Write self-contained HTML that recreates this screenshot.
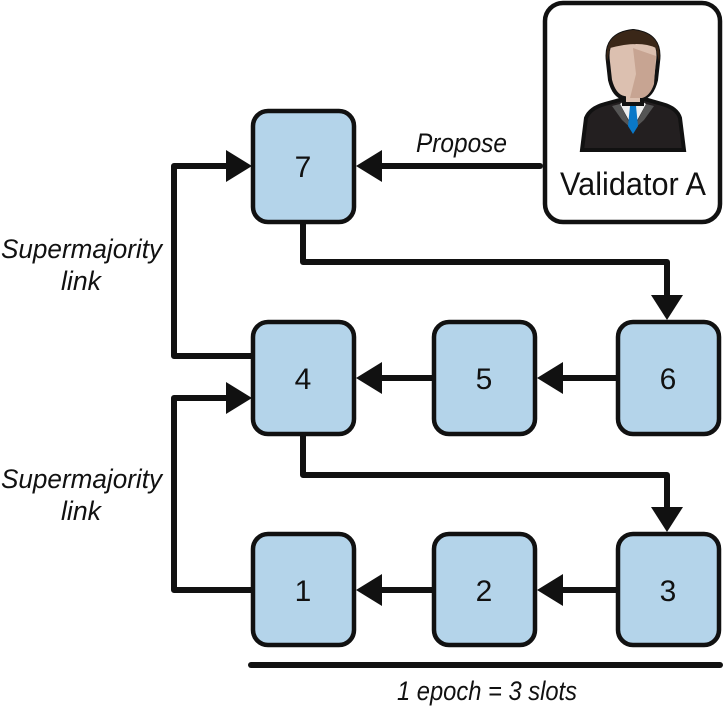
<!DOCTYPE html>
<html><head><meta charset="utf-8"><style>
html,body{margin:0;padding:0;background:#fff;}
svg{display:block;}
text{font-family:"Liberation Sans",sans-serif;fill:#111;}
</style></head><body>
<svg width="723" height="710" viewBox="0 0 723 710" xmlns="http://www.w3.org/2000/svg">
<g fill="none" stroke="#111" stroke-width="6" stroke-linejoin="round" stroke-linecap="round">
<path d="M303 224 V262 H667 V298"/>
<path d="M303 436 V475 H667 V510"/>
<path d="M251 356 H174 V166 H228"/>
<path d="M251 590 H174 V398 H228"/>
<path d="M540 166 H380"/>
<path d="M616 378 H560"/>
<path d="M432 378 H380"/>
<path d="M616 590 H560"/>
<path d="M432 590 H380"/>
<path d="M251 665 H720"/>
</g>
<g fill="#b4d4ea" stroke="#111" stroke-width="4.5">
<rect x="253" y="111" width="101" height="111" rx="15"/>
<rect x="253" y="322" width="101" height="112" rx="15"/>
<rect x="434" y="322" width="101" height="112" rx="15"/>
<rect x="618" y="322" width="101" height="112" rx="15"/>
<rect x="253" y="534" width="101" height="111" rx="15"/>
<rect x="434" y="534" width="101" height="111" rx="15"/>
<rect x="618" y="534" width="101" height="111" rx="15"/>
</g>
<rect x="545" y="3" width="175" height="219" rx="18" fill="#fff" stroke="#111" stroke-width="4.5"/>
<g fill="#111">
<polygon points="252,166 226,150 226,182"/>
<polygon points="252,398 226,382 226,414"/>
<polygon points="356,166 382,150 382,182"/>
<polygon points="356,378 382,362 382,394"/>
<polygon points="537,378 563,362 563,394"/>
<polygon points="356,590 382,574 382,606"/>
<polygon points="537,590 563,574 563,606"/>
<polygon points="667,320 651,295 683,295"/>
<polygon points="667,532 651,507 683,507"/>
</g>
<!-- person icon -->
<path d="M582 150 L586 118 Q590 108 605 104 L627 98 L641 98 L662 104 Q677 108 680 118 L684 150 Z" fill="#231f20" stroke="#111" stroke-width="4"/>
<path d="M620 104 L633 128 L646 104 L640 100 L626 100 Z" fill="#eee"/>
<path d="M612 106 L620 104 L633 130 L622 120 Z M654 106 L646 104 L633 130 L644 120 Z" fill="#555"/>
<path d="M630 106 L636 106 L638 126 L633 134 L628 126 Z" fill="#0a78c8"/>
<path d="M608 62 Q604 34 633 31 Q662 34 658 62 L656 80 Q652 96 642 98 L642 104 L624 104 L624 98 Q614 96 610 80 Z" fill="#dcc0b0" stroke="#111" stroke-width="4"/>
<path d="M633 48 L656 56 L654 84 Q650 96 642 98 L630 98 L636 74 Z" fill="#c7a492"/>
<path d="M607 62 Q603 33 633 30 Q663 33 659 62 L656 48 Q640 40 610 48 Z" fill="#3a2718"/>
<g text-anchor="middle" font-size="30">
<text x="303" y="177">7</text>
<text x="303" y="389">4</text>
<text x="484" y="389">5</text>
<text x="668" y="389">6</text>
<text x="303" y="601">1</text>
<text x="484" y="601">2</text>
<text x="668" y="601">3</text>
</g>
<text x="560" y="195" font-size="32" textLength="146" lengthAdjust="spacingAndGlyphs">Validator A</text>
<g font-style="italic" font-size="27">
<text x="416" y="152" textLength="91" lengthAdjust="spacingAndGlyphs">Propose</text>
<text x="1" y="258" textLength="161" lengthAdjust="spacingAndGlyphs">Supermajority</text>
<text x="61" y="290" textLength="40" lengthAdjust="spacingAndGlyphs">link</text>
<text x="1" y="488" textLength="161" lengthAdjust="spacingAndGlyphs">Supermajority</text>
<text x="61" y="520" textLength="40" lengthAdjust="spacingAndGlyphs">link</text>
<text x="397" y="700" textLength="180" lengthAdjust="spacingAndGlyphs">1 epoch = 3 slots</text>
</g>
</svg>
</body></html>
